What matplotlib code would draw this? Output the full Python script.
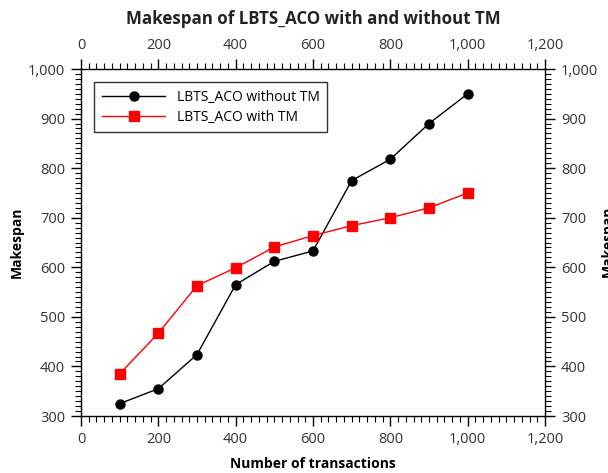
import matplotlib
matplotlib.use("Agg")
import matplotlib.pyplot as plt
from matplotlib.ticker import MultipleLocator, FuncFormatter

plt.rcParams["font.family"] = ["Open Sans", "DejaVu Sans"]

transactions = [100, 200, 300, 400, 500, 600, 700, 800, 900, 1000]
makespan_without_tm = [325, 355, 424, 565, 612, 633, 775, 818, 890, 950]
makespan_with_tm = [385, 467, 563, 599, 641, 664, 684, 700, 720, 750]

fig = plt.figure(figsize=(6.08, 4.73), dpi=100)
ax = fig.add_axes([0.1332, 0.1205, 0.7632, 0.7336])

ax.plot(transactions, makespan_without_tm, color="black", marker="o", markersize=6.5,
        linewidth=1, label="LBTS_ACO without TM")
ax.plot(transactions, makespan_with_tm, color="red", marker="s", markersize=6.5,
        linewidth=1, label="LBTS_ACO with TM")

ax.set_xlim(0, 1200)
ax.set_ylim(300, 1000)
ax.xaxis.set_major_locator(MultipleLocator(200))
ax.xaxis.set_minor_locator(MultipleLocator(20))
ax.yaxis.set_major_locator(MultipleLocator(100))
ax.yaxis.set_minor_locator(MultipleLocator(10))
thousands = FuncFormatter(lambda v, _: f"{int(v):,}")
ax.xaxis.set_major_formatter(thousands)
ax.yaxis.set_major_formatter(thousands)

# all ticks point outward on the four sides
ax.tick_params(which="major", direction="out", length=7, width=1,
               top=True, right=True, labeltop=True, labelright=True,
               labelsize=10.5, labelcolor="#333333", pad=4.5)
ax.tick_params(which="minor", direction="out", length=4, width=0.8,
               top=True, right=True)
for spine in ax.spines.values():
    spine.set_linewidth(1)

ax.set_xlabel("Number of transactions", fontsize=10, fontweight="bold", labelpad=7)
ax.set_ylabel("Makespan", fontsize=10, fontweight="bold", labelpad=3)
fig.text(1.0, 0.49, "Makespan", rotation=90, fontsize=10, fontweight="bold",
         ha="center", va="center")
ax.set_title("Makespan of LBTS_ACO with and without TM", fontsize=12.2,
             fontweight="bold", color="#222222", pad=10)

leg = ax.legend(loc="upper left", bbox_to_anchor=(0.013, 0.982), fontsize=10,
                frameon=True, fancybox=False, edgecolor="black",
                borderpad=0.55, handlelength=4.6, labelspacing=0.35)
leg.get_frame().set_linewidth(1)

fig.savefig("out.png", dpi=100)
